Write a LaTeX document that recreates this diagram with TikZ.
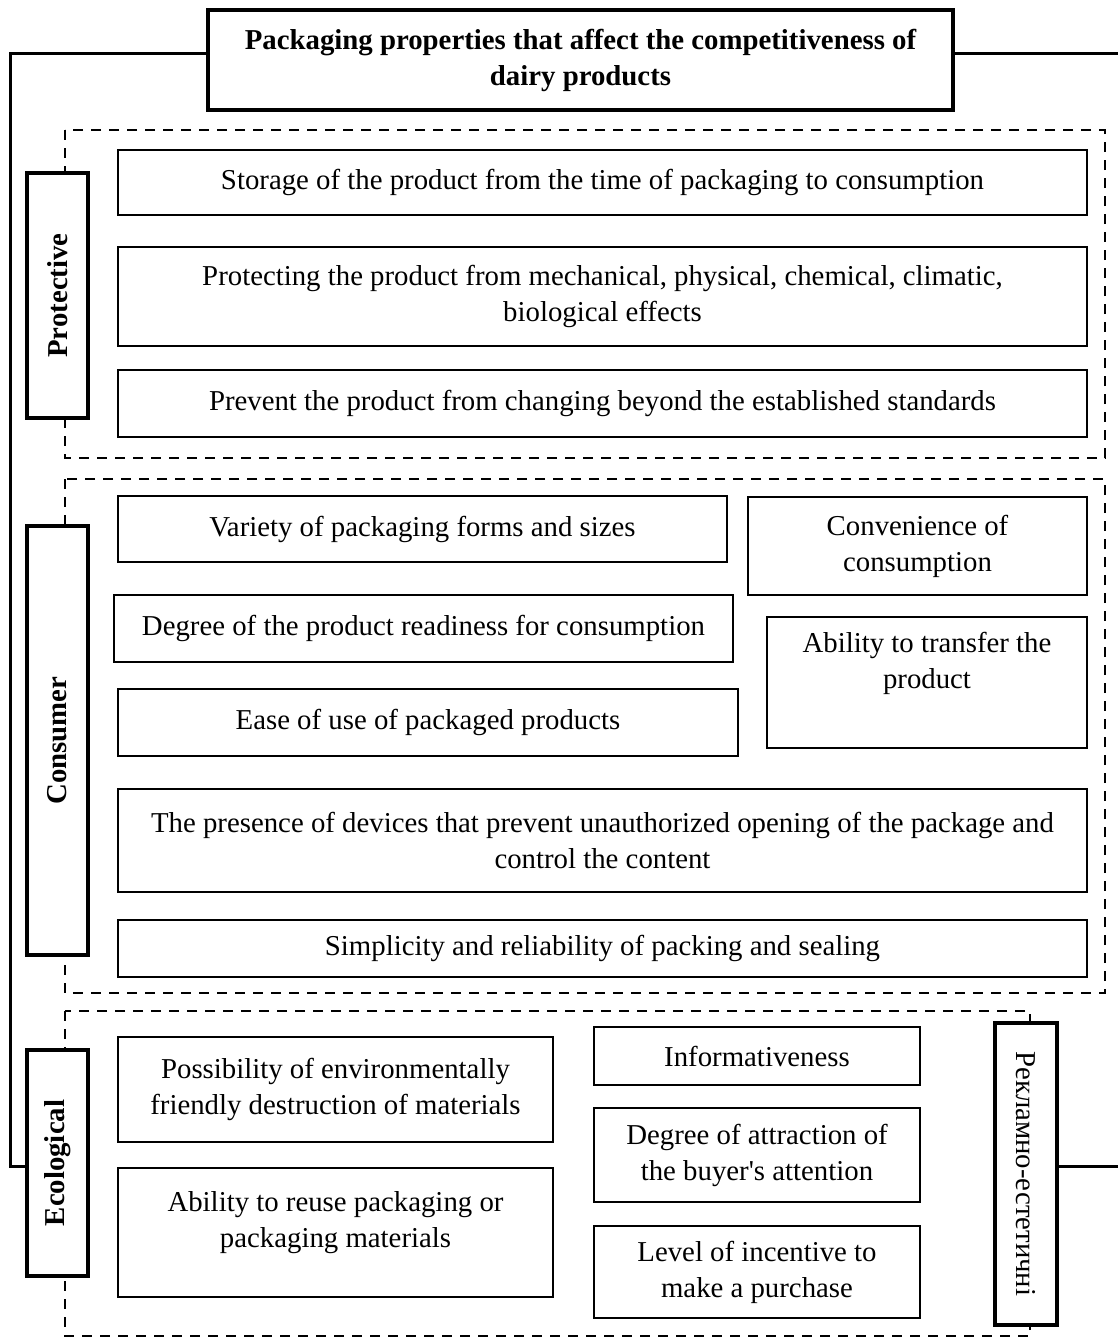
\documentclass[tikz,border=0pt]{standalone}
\usepackage{fontspec}
\setmainfont{Liberation Serif}

\begin{document}
\begin{tikzpicture}[x=0.5pt,y=-0.5pt,
   font=\fontsize{14.4pt}{18pt}\selectfont,
   head/.style={draw, line width=1.6pt, fill=white, align=center, inner sep=0pt,
      font=\fontsize{14.4pt}{18pt}\selectfont\bfseries},
   side/.style={head, rotate=90},
   prop/.style={draw, line width=1.1pt, align=center, inner sep=0pt},
   group/.style={line width=1pt, dash pattern=on 5pt off 4pt},
   link/.style={line width=1.5pt}]
   \useasboundingbox (0,0) rectangle (1118,1340);

   %% Gruppen
   \draw[group] (65,130) rectangle (1105,458);
   \draw[group] (65,479) rectangle (1105,993);
   \draw[group] (65,1011) rectangle (1030,1336);

   %% Titel und Seiten
   \node[head, minimum width=372.5pt, minimum height=50pt] (title) at (580.5,60)
      {Packaging properties that affect the competitiveness of\\ dairy products};
   \node[side, minimum width=122.5pt, minimum height=30.5pt] (protective) at (57.5,295.5) {Protective};
   \node[side, minimum width=214.5pt, minimum height=30.5pt] (consumer) at (57.5,740.5) {Consumer};
   \node[side, minimum width=113pt, minimum height=30.5pt] (ecological) at (57.5,1163) {Ecological};
   \node[head, rotate=-90, minimum width=151pt, minimum height=31pt,
      font=\fontsize{14.4pt}{18pt}\selectfont] (advert) at (1026,1174) {Рекламно-естетичні};

   %% Schutz
   \node[prop, minimum width=484.5pt, minimum height=32.5pt] (storage) at (602.5,182.5)
      {Storage of the product from the time of packaging to consumption};
   \node[prop, minimum width=484.5pt, minimum height=49.5pt] (protecting) at (602.5,296.5)
      {Protecting the product from mechanical, physical, chemical, climatic,\\ biological effects};
   \node[prop, minimum width=484.5pt, minimum height=33.5pt] (prevent) at (602.5,403.5)
      {Prevent the product from changing beyond the established standards};

   %% Verbraucher
   \node[prop, minimum width=304.5pt, minimum height=33pt] (variety) at (422.5,529)
      {Variety of packaging forms and sizes};
   \node[prop, minimum width=169.5pt, minimum height=49pt] (convenience) at (917.5,546)
      {Convenience of\\ consumption};
   \node[prop, minimum width=309.5pt, minimum height=33.5pt] (readiness) at (423.5,628.5)
      {Degree of the product readiness for consumption};
   \node[prop, minimum width=160pt, minimum height=65.5pt, text depth=22pt] (transfer) at (927,682.5)
      {Ability to transfer the\\ product};
   \node[prop, minimum width=310pt, minimum height=33.5pt] (ease) at (428,722.5)
      {Ease of use of packaged products};
   \node[prop, minimum width=484.5pt, minimum height=51.5pt] (presence) at (602.5,840.5)
      {The presence of devices that prevent unauthorized opening of the package and\\ control the content};
   \node[prop, minimum width=484.5pt, minimum height=28.5pt] (simplicity) at (602.5,948.5)
      {Simplicity and reliability of packing and sealing};

   %% Oekologie und Werbung
   \node[prop, minimum width=217.5pt, minimum height=52.5pt] (possibility) at (335.5,1089.5)
      {Possibility of environmentally\\ friendly destruction of materials};
   \node[prop, minimum width=217.5pt, minimum height=64.5pt, text depth=13pt] (reuse) at (335.5,1232.5)
      {Ability to reuse packaging or\\ packaging materials};
   \node[prop, minimum width=163pt, minimum height=29pt] (informative) at (757,1056)
      {Informativeness};
   \node[prop, minimum width=163pt, minimum height=47pt] (attraction) at (757,1155)
      {Degree of attraction of\\ the buyer\textquotesingle s attention};
   \node[prop, minimum width=163pt, minimum height=46pt] (incentive) at (757,1272)
      {Level of incentive to\\ make a purchase};

   %% Verbindungen
   \coordinate (topleft) at (10,53);
   \coordinate (lowleft) at (10,1166);
   \coordinate (topright) at (1118,53);
   \coordinate (lowright) at (1118,1166);
   \draw[link] (title.west |- topleft) -- (topleft) -- (lowleft) -- (ecological.north |- lowleft);
   \draw[link] (title.east |- topright) -- (topright);
   \draw[link] (advert.north |- lowright) -- (lowright);
\end{tikzpicture}
\end{document}
